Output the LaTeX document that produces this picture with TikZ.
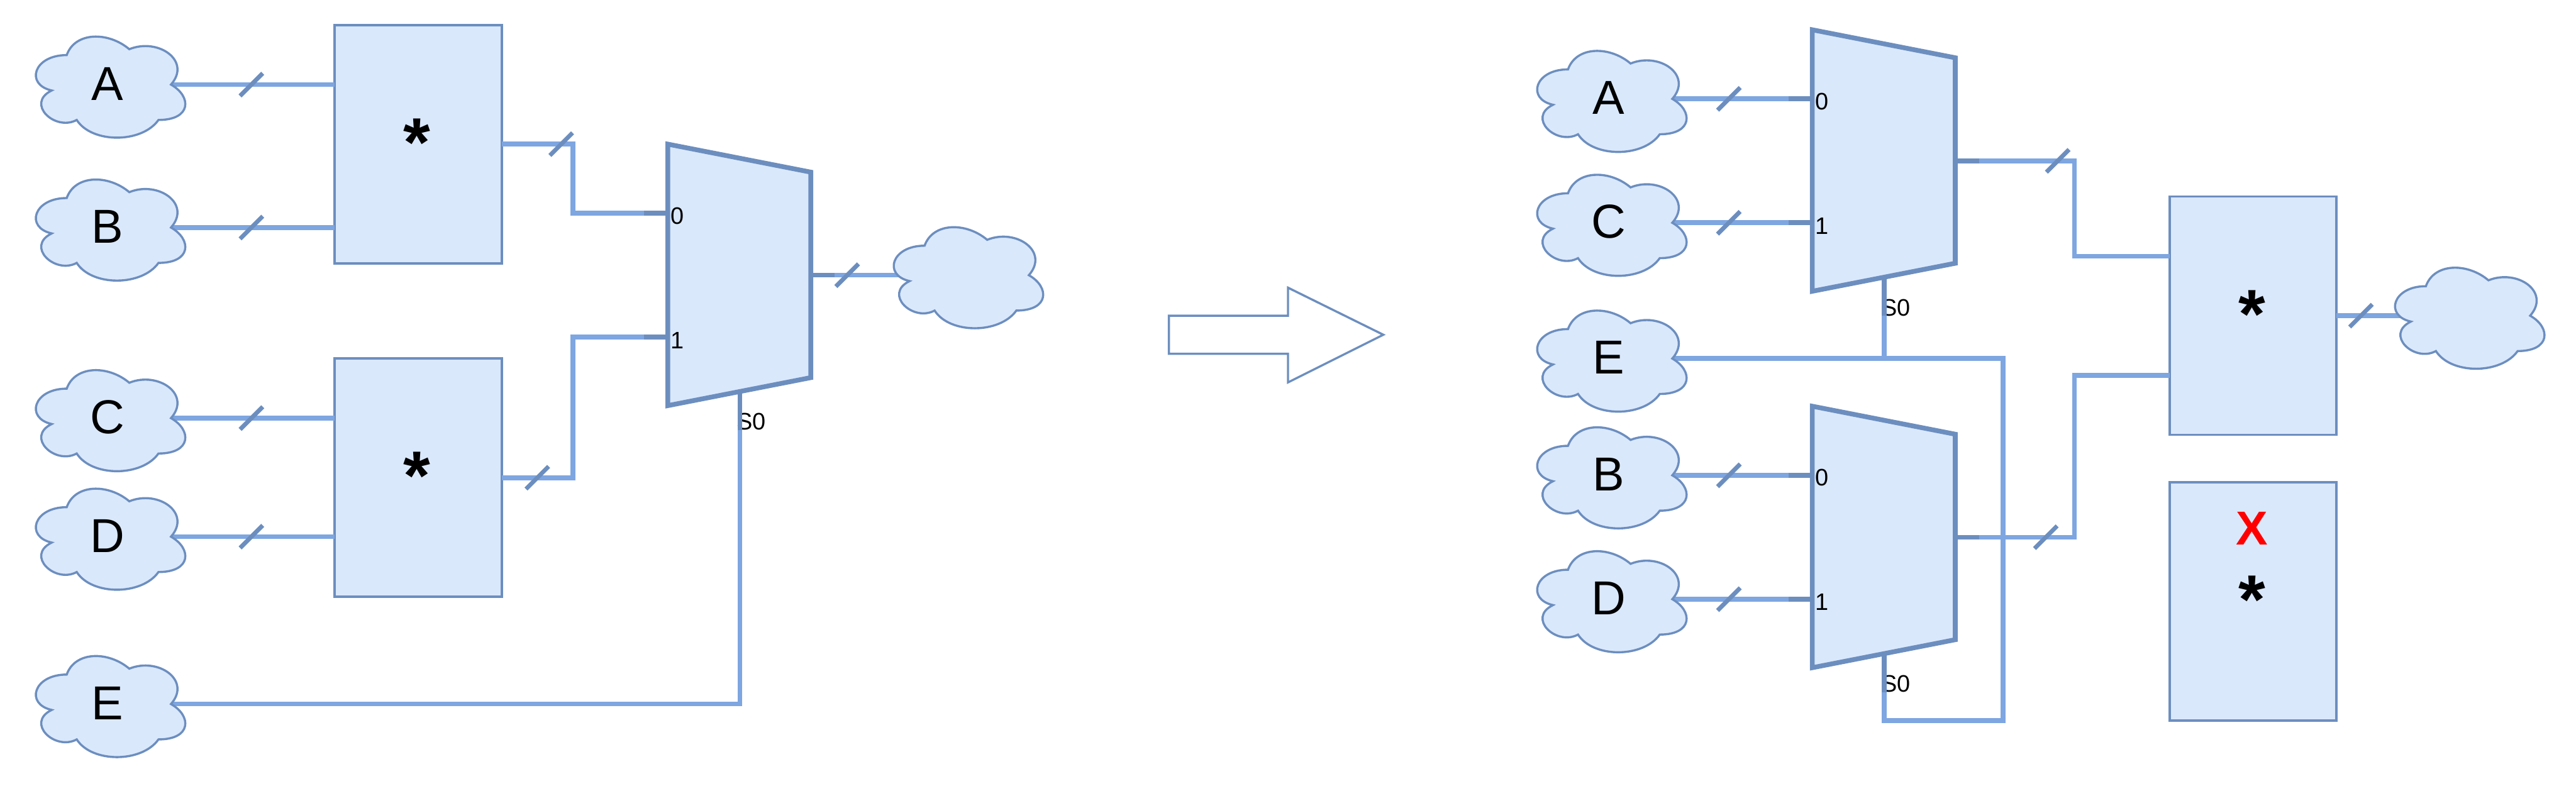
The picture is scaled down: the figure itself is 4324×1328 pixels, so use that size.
\documentclass[tikz,border=0pt]{standalone}
\usepackage{fontspec}
\setmainfont{Liberation Sans}
\definecolor{boxfill}{HTML}{DAE8FC}
\definecolor{boxedge}{HTML}{6C8EBF}
\definecolor{wireblue}{HTML}{7EA6E0}
\definecolor{crossred}{HTML}{FF0000}
\tikzset{
	wire/.style={wireblue,line width=2pt},
	stub/.style={boxedge,line width=2pt},
	tick/.style={boxedge,line width=1.8pt},
	muxline/.style={draw=boxedge,fill=boxfill,line width=2pt},
	cloudline/.style={draw=boxedge,fill=boxfill,line width=0.9pt},
	prodbox/.style={draw=boxedge,fill=boxfill,line width=1pt,inner sep=0pt,outer sep=0pt,minimum width=70pt,minimum height=100pt},
	letter/.style={font=\fontsize{20}{24}\selectfont,inner sep=0pt,anchor=base},
	starlabel/.style={font=\fontsize{29}{34}\selectfont\bfseries,inner sep=0pt,anchor=base},
	portlabel/.style={font=\fontsize{10}{12}\selectfont,inner sep=0pt,anchor=base west},
	muxshape/.pic={
		\draw[muxline] (0,0)--(240,47)--(240,392)--(0,439)--cycle;
		\path (-40,116) coordinate (-s0)
		(-40,324) coordinate (-s1)
		(280,220) coordinate (-so)
		(121,480) coordinate (-ss);
		\node[portlabel] (-l0) at (4,134) {0};
		\node[portlabel] (-l1) at (4,343) {1};
		\node[portlabel] (-ls) at (115,480) {S0};
		\draw[stub] (-s0)--(0,116);
		\draw[stub] (-s1)--(0,324);
		\draw[stub] (240,220)--(-so);
		\draw[stub] (121,415)--(-ss);
	},
	cloudshape/.pic={
		\draw[cloudline] (-175,-49.5) .. controls (-231,-49.5) and (-245,0) .. (-200.2,9.9)
		.. controls (-245,31.7) and (-194.6,79.2) .. (-158.2,59.4)
		.. controls (-133,99) and (-49,99) .. (-21,59.4)
		.. controls (35,59.4) and (35,19.8) .. (0,0)
		.. controls (35,-39.6) and (-21,-79.2) .. (-70,-59.4)
		.. controls (-105,-89.1) and (-161,-89.1) .. (-175,-49.5) -- cycle;
	},
}
\begin{document}
\begin{tikzpicture}[x=0.25pt,y=-0.25pt]
	\useasboundingbox (0,0) rectangle (4324,1328);
	\path (287,142) coordinate (lA)
	(287,382) coordinate (lB)
	(287,702) coordinate (lC)
	(287,901) coordinate (lD)
	(287,1182) coordinate (lE)
	(1727,462) coordinate (lOut)
	(2807,166) coordinate (rA)
	(2807,374) coordinate (rC)
	(2807,602) coordinate (rE)
	(2807,798) coordinate (rB)
	(2807,1006) coordinate (rD)
	(4247,530) coordinate (rOut)
	(3642,430) coordinate (pIn0)
	(3642,630) coordinate (pIn1)
	;
	% left side
	\node[prodbox] (prodAB) at (702,242) {};
	\node[prodbox] (prodCD) at (702,802) {};
	\pic (m1) at (1121,242) {muxshape};
	% right side
	\pic (m2) at (3042,50) {muxshape};
	\pic (m3) at (3042,682) {muxshape};
	\node[prodbox] (prodOut) at (3782,530) {};
	\node[prodbox] (prodOff) at (3782,1010) {};
	\node[letter,text=crossred,font=\fontsize{20}{24}\selectfont\bfseries] (cross) at (3780,915) {X};
	\foreach \q/\x/\y in {AB/700/214,CD/700/774,Out/3780/502,Off/3780/982}
	\node[starlabel] (star\q) at (\x,\y+65) {*};
	% wires
	\foreach \p/\q in {lA/prodAB,lB/prodAB,lC/prodCD,lD/prodCD}
	\draw[wire] (\p)--(\p -| \q.west);
	\draw[wire] (prodAB.east)--++(120,0) |- (m1-s0);
	\draw[wire] (prodCD.east)--++(120,0) |- (m1-s1);
	\draw[wire] (lE) -| (m1-ss);
	\draw[wire] (m1-so)--(lOut);
	\draw[wire] (rA)--(m2-s0);
	\draw[wire] (rC)--(m2-s1);
	\draw[wire] (rB)--(m3-s0);
	\draw[wire] (rD)--(m3-s1);
	\draw[wire] (rE) -| (m2-ss);
	\draw[wire] (rE)--++(555,0)--++(0,608) -| (m3-ss);
	\draw[wire] (m2-so)--++(160,0) |- (pIn0);
	\draw[wire] (m3-so)--++(160,0) |- (pIn1);
	\draw[wire] (prodOut.east)--(rOut);
	% clouds
	\foreach \p/\t in {lA/A,lB/B,lC/C,lD/D,lE/E,rA/A,rC/C,rE/E,rB/B,rD/D}{
		\pic at (\p) {cloudshape};
		\node[letter] (t\p) at ([shift={(-107,26)}]\p) {\t};
	}
	\foreach \p in {lOut,rOut}
	\pic at (\p) {cloudshape};
	% bus ticks
	\foreach \x/\y in {422/142,422/382,422/702,422/901,942/242,902/802,1422/462,2902/166,2902/374,2902/798,2902/1006,3454/270,3434/902,3963/530}
	\draw[tick] (\x-19,\y+19)--(\x+19,\y-19);
	% arrow in the middle
	\draw[boxedge,line width=0.9pt] (1962,530)--(2162,530)--(2162,483)--(2322,562)--(2162,642)--(2162,594)--(1962,594)--cycle;
\end{tikzpicture}
\end{document}
